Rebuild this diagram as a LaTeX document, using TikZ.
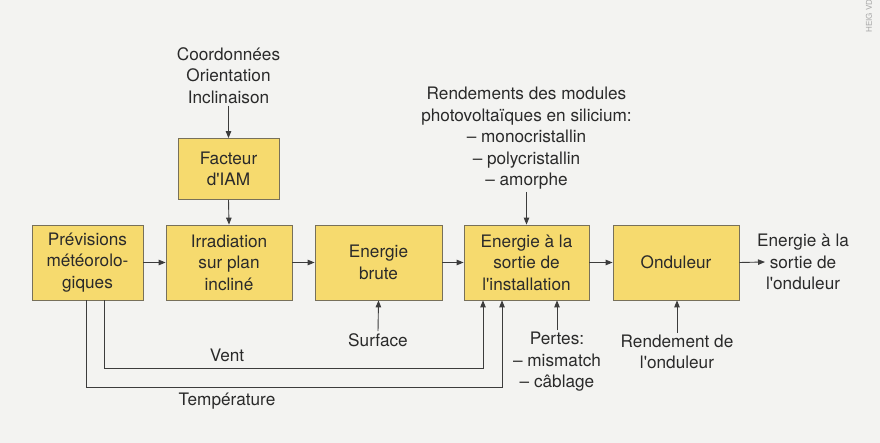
\documentclass[tikz,border=0pt]{standalone}
\usepackage{fontspec}
\setmainfont{TeX Gyre Heros}
\usetikzlibrary{arrows.meta}
\definecolor{bg}{HTML}{F3F3F1}
\definecolor{boxfill}{HTML}{F6DA6E}
\definecolor{boxline}{HTML}{77705A}
\definecolor{ink}{HTML}{2A2A2A}
\definecolor{lineink}{HTML}{3C3C3C}
\newcommand{\sq}{\textquotesingle}
\begin{document}
\begin{tikzpicture}[x=1pt,y=-1pt,
  every node/.style={text=ink,font=\fontsize{17.2}{21.5}\selectfont},
  blk/.style={draw=boxline,line width=0.8pt,fill=boxfill,align=center,inner sep=0pt,minimum height=75pt},
  lbl/.style={align=center,inner sep=2pt},
  arr/.style={draw=lineink,line width=0.9pt,-{Triangle[length=7pt,width=5.5pt]}},
  ln/.style={draw=lineink,line width=0.9pt}]
\fill[bg] (0,0) rectangle (880,443);
\useasboundingbox (0,0) rectangle (880,443);

% credit
\node[rotate=90,anchor=east,text=gray!70,font=\fontsize{8}{9}\selectfont] (credit) at (869,-4) {HEIG VD};

% boxes
\node[blk,minimum width=111pt] (prev) at (87.5,262.5) {Prévisions\\météorolo-\\giques};
\node[blk,minimum width=126pt] (irr) at (229,262.5) {Irradiation\\sur plan\\incliné};
\node[blk,minimum width=127pt] (brute) at (378.5,262.5) {Energie\\brute};
\node[blk,minimum width=125pt] (sortie) at (526.5,262.5) {Energie à la\\sortie de\\l\sq installation};
\node[blk,minimum width=126pt] (ond) at (676,262.5) {Onduleur};
\node[blk,minimum width=101pt,minimum height=61pt] (iam) at (228.5,169) {Facteur\\d\sq IAM};

% labels
\node[lbl] (coord) at (228.5,75.5) {Coordonnées\\Orientation\\Inclinaison};
\node[lbl] (rend) at (526.5,138.5) {Rendements des modules\\photovoltaïques en silicium:\\– monocristallin\\– polycristallin\\– amorphe};
\node[lbl] (surf) at (378,340) {Surface};
\node[lbl] (pertes) at (557,362) {Pertes:\\– mismatch\\– câblage};
\node[lbl] (rond) at (677,352) {Rendement de\\l\sq onduleur};
\node[lbl,anchor=west] (out) at (755,262) {Energie à la\\sortie de\\l\sq onduleur};
\node[lbl] (vent) at (227,355) {Vent};
\node[lbl] (temp) at (227,401) {Température};

% connectors
\draw[arr] (coord.south) -- (iam.north);
\draw[arr] (iam.south) -- (irr.north);
\draw[arr] (prev.east) -- (irr.west);
\draw[arr] (irr.east) -- (brute.west);
\draw[arr] (brute.east) -- (sortie.west);
\draw[arr] (sortie.east) -- (ond.west);
\draw[arr] (ond.east) -- ([xshift=10pt]out.west);
\draw[arr] (rend.south) -- (sortie.north);
\draw[arr] (surf.north) -- (brute.south);
\draw[arr] (pertes.north) -- (pertes.north |- sortie.south);
\draw[arr] (rond.north) -- (rond.north |- ond.south);
\draw[arr] ([xshift=16.5pt]prev.south) -- ++(0,68) -| ([xshift=-43.5pt]sortie.south);
\draw[arr] ([xshift=-1.5pt]prev.south) -- ++(0,87) -| ([xshift=-24.5pt]sortie.south);
\end{tikzpicture}
\end{document}
